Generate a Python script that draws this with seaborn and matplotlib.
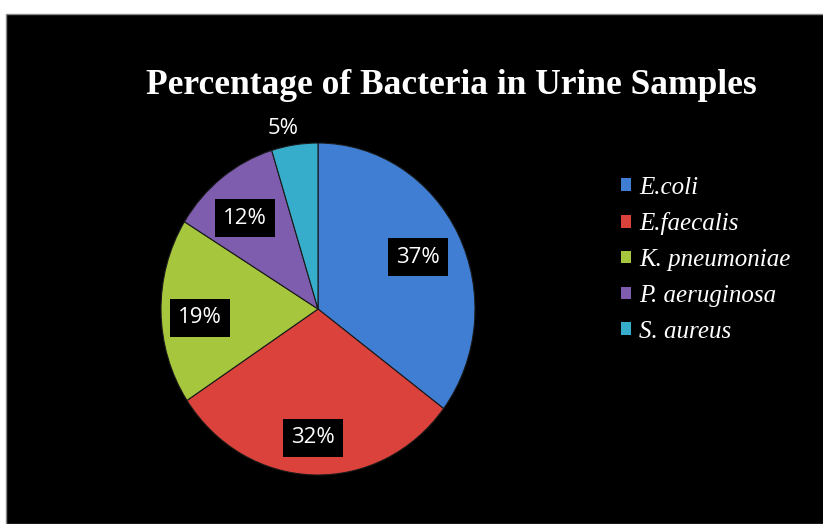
import matplotlib
matplotlib.use("Agg")
import matplotlib.pyplot as plt
from matplotlib.patches import Rectangle
import seaborn as sns

# Data
species = ["E.coli", "E.faecalis", "K. pneumoniae", "P. aeruginosa", "S. aureus"]
percentages = [37, 32, 19, 12, 5]
slice_colors = ["#3F7ED3", "#DA423B", "#A6C63D", "#7E5CAE", "#36AECB"]

sns.set_theme(style="white")
plt.rcParams["font.family"] = ["DejaVu Sans"]

W, H = 823, 524
fig = plt.figure(figsize=(W / 100, H / 100), dpi=100, facecolor="white")

# black chart area
fig.patches.append(Rectangle((6 / W, 0), 1, (H - 14) / H, transform=fig.transFigure,
                             facecolor="black", edgecolor="#888888", linewidth=1.0,
                             zorder=-5))

# pie is drawn slightly taller than wide
cx, cy, rx, ry = 318, 309, 157, 166
ax = fig.add_axes([(cx - rx) / W, (H - cy - ry) / H, 2 * rx / W, 2 * ry / H])
ax.set_zorder(2)
ax.set_facecolor("none")
palette = sns.color_palette(slice_colors)

wedges, _ = ax.pie(percentages, colors=palette, startangle=90, counterclock=False,
                   radius=1.0, wedgeprops=dict(edgecolor="#1a1a1a", linewidth=0.8))
ax.set_xlim(-1, 1)
ax.set_ylim(-1, 1)
ax.set_aspect("auto")
ax.axis("off")

# percentage labels: boxed inside the pie, plain when placed outside it
label_pos = [(0.637, 0.313), (-0.032, -0.777), (-0.752, -0.054), (-0.465, 0.548), (-0.223, 1.09)]
for (x, y), pct in zip(label_pos, percentages):
    inside = x * x + y * y < 1
    ax.text(x, y, f"{pct}%", color="white", fontsize=16, ha="center", va="center",
            family=["Open Sans", "DejaVu Sans"], clip_on=False,
            bbox=dict(boxstyle="square,pad=0.38", facecolor="black", edgecolor="none")
            if inside else None)

fig.text(451 / W, 1 - 86 / H, "Percentage of Bacteria in Urine Samples", color="white",
         fontsize=25.5, fontweight="bold", family=["Liberation Serif", "DejaVu Serif"],
         ha="center", va="center", zorder=3)

handles = [Rectangle((0, 0), 1, 1, facecolor=c, edgecolor="none") for c in palette]
leg = fig.legend(handles, species, loc="upper left", bbox_to_anchor=(598 / W, 1 - 154 / H),
                 frameon=False, handlelength=0.4, handleheight=0.4, handletextpad=0.35,
                 labelspacing=0.55,
                 prop=dict(family=["Liberation Serif", "DejaVu Serif"], style="italic", size=18))
leg.set_zorder(3)
for t in leg.get_texts():
    t.set_color("white")

fig.savefig("out.png", dpi=100, facecolor="white")
